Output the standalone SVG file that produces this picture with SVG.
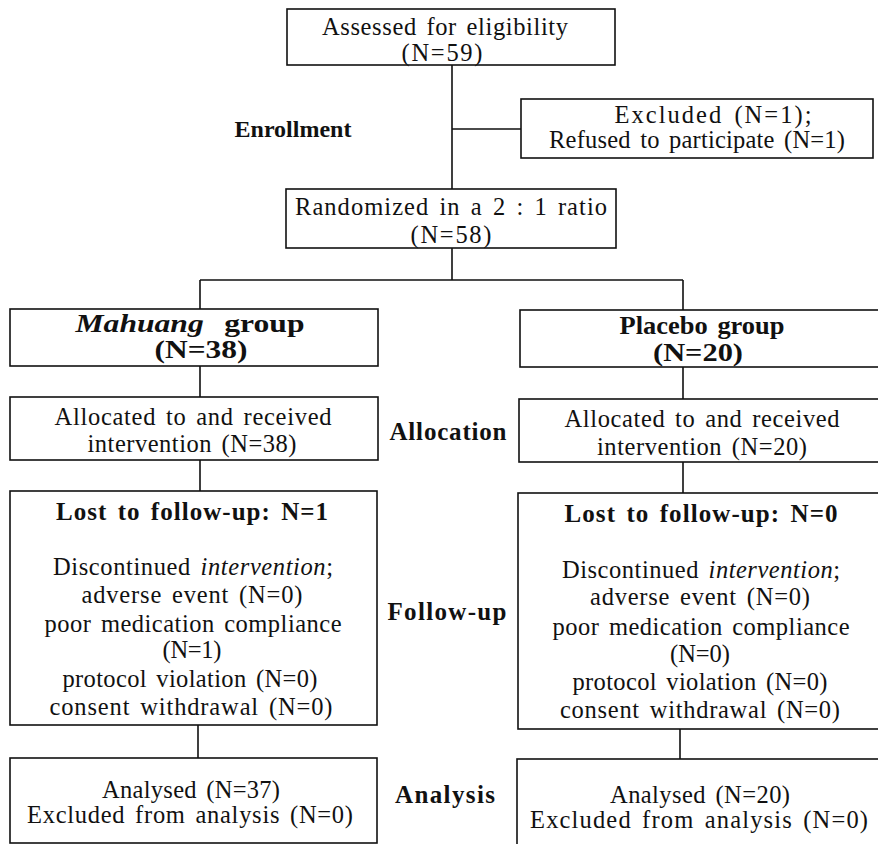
<svg xmlns="http://www.w3.org/2000/svg" width="878" height="844" viewBox="0 0 878 844">
<style>
  rect.box { fill: #fff; stroke: #111; stroke-width: 1.6; }
  .c { fill: none; stroke: #111; stroke-width: 1.6; }
  text { font-family: "Liberation Serif", "Times New Roman", serif; font-size: 24.5px; fill: #111; text-anchor: middle; word-spacing: 3px; }
  .b { font-weight: bold; font-size: 25px; }
  .i { font-style: italic; }
</style>
<rect width="878" height="844" fill="#fff"/>
<g id="connectors">
  <path class="c" d="M452 65 V189 M452 129 H521 M452 248 V280 M200 280 H683 M200 280 V309 M683 280 V310 M200 366 V397 M683 367 V399 M200 460 V491 M683 462 V493 M198 725 V758 M680 729 V759"/>
</g>
<g id="assessed">
  <rect class="box" x="287" y="9" width="328" height="56"/>
  <text x="445" y="35" textLength="246" lengthAdjust="spacing">Assessed for eligibility</text>
  <text x="442" y="61" textLength="81" lengthAdjust="spacing">(N=59)</text>
</g>
<g id="excluded">
  <rect class="box" x="521" y="99" width="352" height="59"/>
  <text x="713" y="123" textLength="197" lengthAdjust="spacing">Excluded (N=1);</text>
  <text x="697" y="148" textLength="296" lengthAdjust="spacing">Refused to participate (N=1)</text>
</g>
<g id="label-enrollment">
  <text class="b" x="293" y="137" style="font-size:24px">Enrollment</text>
</g>
<g id="randomized">
  <rect class="box" x="286" y="189" width="330" height="59"/>
  <text x="451" y="215" textLength="312" lengthAdjust="spacing">Randomized in a 2 : 1 ratio</text>
  <text x="451" y="243" textLength="81" lengthAdjust="spacing">(N=58)</text>
</g>
<g id="mahuang">
  <rect class="box" x="10" y="309" width="368" height="57"/>
  <text class="b" x="190" y="332" style="word-spacing:10px" textLength="229" lengthAdjust="spacingAndGlyphs"><tspan class="i">Mahuang</tspan> group</text>
  <text class="b" x="201" y="358" textLength="93" lengthAdjust="spacingAndGlyphs">(N=38)</text>
</g>
<g id="placebo">
  <rect class="box" x="520" y="310" width="368" height="57"/>
  <text class="b" x="702" y="334" textLength="165" lengthAdjust="spacingAndGlyphs">Placebo group</text>
  <text class="b" x="698" y="361" textLength="90" lengthAdjust="spacingAndGlyphs">(N=20)</text>
</g>
<g id="alloc-left">
  <rect class="box" x="10" y="397" width="368" height="63"/>
  <text x="193" y="425" textLength="277" lengthAdjust="spacing">Allocated to and received</text>
  <text x="192" y="452" textLength="209" lengthAdjust="spacing">intervention (N=38)</text>
</g>
<g id="alloc-right">
  <rect class="box" x="519" y="399" width="369" height="63"/>
  <text x="702" y="427" textLength="275" lengthAdjust="spacing">Allocated to and received</text>
  <text x="702" y="455" textLength="210" lengthAdjust="spacing">intervention (N=20)</text>
</g>
<g id="label-allocation">
  <text class="b" x="448" y="440" textLength="117" lengthAdjust="spacing">Allocation</text>
</g>
<g id="followup-left">
  <rect class="box" x="10" y="491" width="367" height="234"/>
  <text class="b" x="192" y="520" textLength="272" lengthAdjust="spacing">Lost to follow-up: N=1</text>
  <text x="193" y="575" textLength="280" lengthAdjust="spacing">Discontinued <tspan class="i">intervention</tspan>;</text>
  <text x="192" y="603" textLength="221" lengthAdjust="spacing">adverse event (N=0)</text>
  <text x="193" y="632" textLength="297" lengthAdjust="spacing">poor medication compliance</text>
  <text x="192" y="658" textLength="59" lengthAdjust="spacing">(N=1)</text>
  <text x="190" y="687" textLength="255" lengthAdjust="spacing">protocol violation (N=0)</text>
  <text x="191" y="715" textLength="283" lengthAdjust="spacing">consent withdrawal (N=0)</text>
</g>
<g id="followup-right">
  <rect class="box" x="518" y="493" width="370" height="236"/>
  <text class="b" x="701" y="522" textLength="273" lengthAdjust="spacing">Lost to follow-up: N=0</text>
  <text x="701" y="578" textLength="278" lengthAdjust="spacing">Discontinued <tspan class="i">intervention</tspan>;</text>
  <text x="700" y="605" textLength="220" lengthAdjust="spacing">adverse event (N=0)</text>
  <text x="701" y="635" textLength="297" lengthAdjust="spacing">poor medication compliance</text>
  <text x="700" y="662" textLength="60" lengthAdjust="spacing">(N=0)</text>
  <text x="700" y="690" textLength="255" lengthAdjust="spacing">protocol violation (N=0)</text>
  <text x="700" y="718" textLength="280" lengthAdjust="spacing">consent withdrawal (N=0)</text>
</g>
<g id="label-followup">
  <text class="b" x="447" y="620" textLength="119" lengthAdjust="spacing">Follow-up</text>
</g>
<g id="analysis-left">
  <rect class="box" x="10" y="758" width="367" height="85"/>
  <text x="191" y="798" textLength="178" lengthAdjust="spacing">Analysed (N=37)</text>
  <text x="190" y="823" textLength="326" lengthAdjust="spacing">Excluded from analysis (N=0)</text>
</g>
<g id="analysis-right">
  <rect class="box" x="517" y="759" width="371" height="95"/>
  <text x="700" y="803" textLength="180" lengthAdjust="spacing">Analysed (N=20)</text>
  <text x="699" y="828" textLength="338" lengthAdjust="spacing">Excluded from analysis  (N=0)</text>
</g>
<g id="label-analysis">
  <text class="b" x="445" y="803" textLength="100" lengthAdjust="spacing">Analysis</text>
</g>
</svg>
